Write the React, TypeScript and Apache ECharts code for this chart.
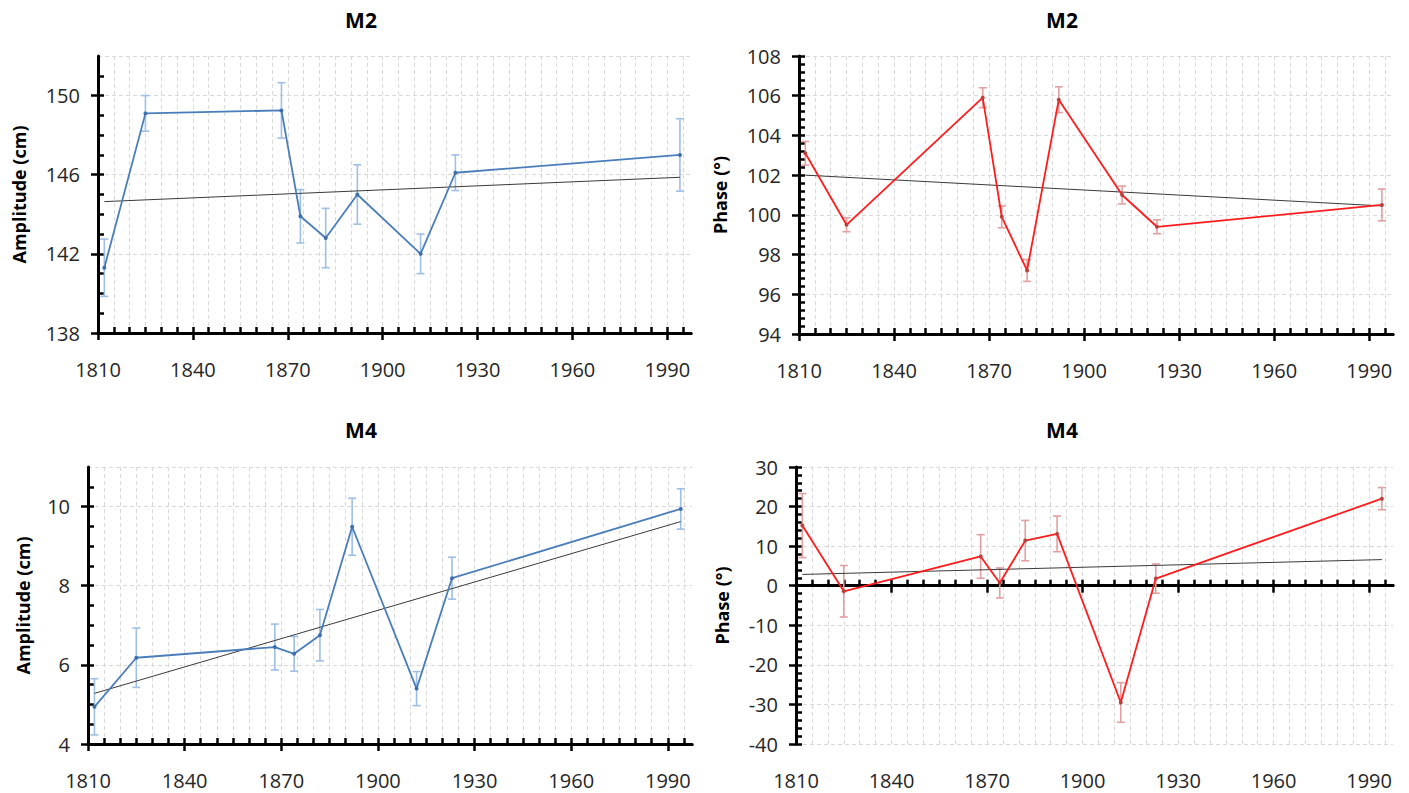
import React, { useEffect, useRef } from "react";
import * as echarts from "echarts";

// ---- data ----
const years = [1812, 1825, 1868, 1874, 1882, 1892, 1912, 1923, 1994];

const m2Amplitude = [141.3, 149.1, 149.25, 143.9, 142.8, 145.0, 142.0, 146.1, 147.0];
const m2AmplitudeErr = [1.45, 0.9, 1.4, 1.35, 1.5, 1.5, 1.0, 0.9, 1.83];
const m2Phase = [103.1, 99.5, 105.9, 99.9, 97.2, 105.8, 101.0, 99.4, 100.5];
const m2PhaseErr = [0.6, 0.35, 0.5, 0.55, 0.55, 0.65, 0.45, 0.35, 0.8];
const m4Amplitude = [4.94, 6.18, 6.45, 6.28, 6.75, 9.49, 5.4, 8.19, 9.94];
const m4AmplitudeErr = [0.71, 0.75, 0.58, 0.44, 0.65, 0.72, 0.43, 0.53, 0.51];
const m4Phase = [15.2, -1.4, 7.4, 0.7, 11.4, 13.1, -29.5, 1.8, 22.0];
const m4PhaseErr = [8.1, 6.5, 5.5, 3.8, 5.1, 4.5, 5.0, 3.7, 2.8];

// linear trend lines (end points)
const trendYears = [1812, 1994];
const m2AmplitudeTrend = [144.64, 145.87];
const m2PhaseTrend = [102.0, 100.45];
const m4AmplitudeTrend = [5.28, 9.62];
const m4PhaseTrend = [2.85, 6.6];

// tick labels
const xTickLabels = [1810, 1840, 1870, 1900, 1930, 1960, 1990];
const xGridValues = [
  1810, 1815, 1820, 1825, 1830, 1835, 1840, 1845, 1850, 1855, 1860, 1865, 1870, 1875, 1880, 1885, 1890,
  1895, 1900, 1905, 1910, 1915, 1920, 1925, 1930, 1935, 1940, 1945, 1950, 1955, 1960, 1965, 1970, 1975,
  1980, 1985, 1990, 1995,
];
const m2AmpTicks = [138, 142, 146, 150];
const m2PhaTicks = [94, 96, 98, 100, 102, 104, 106, 108];
const m4AmpTicks = [4, 6, 8, 10];
const m4PhaTicks = [-40, -30, -20, -10, 0, 10, 20, 30];

const X_MIN = 1810;
const X_MAX = 1997.5;
const FONT = '"Open Sans", "Noto Sans", sans-serif';

const BLUE = { line: "#4a7ebb", marker: "#3d6fae", err: "#9ebfe6" };
const RED = { line: "#ff1c1c", marker: "#b8403d", err: "#e2a0a0" };

type Panel = {
  title: string;
  titlePos: [number, number];
  yName: string;
  nameGap: number;
  values: number[];
  errors: number[];
  trend: number[];
  yMin: number;
  yMax: number;
  yInterval: number;
  yMinorSplit: number;
  yTicks: number[];
  yGrid: number[];
  rect: { left: number; top: number; width: number; height: number };
  colors: { line: string; marker: string; err: string };
  xOnZero: boolean;
};

const panels: Panel[] = [
  {
    title: "M2",
    titlePos: [361, 20],
    yName: "Amplitude (cm)",
    nameGap: 70,
    values: m2Amplitude,
    errors: m2AmplitudeErr,
    trend: m2AmplitudeTrend,
    yMin: 138,
    yMax: 152,
    yInterval: 4,
    yMinorSplit: 4,
    yTicks: m2AmpTicks,
    yGrid: [142, 146, 150, 152],
    rect: { left: 98, top: 56, width: 593, height: 277 },
    colors: BLUE,
    xOnZero: false,
  },
  {
    title: "M2",
    titlePos: [1062, 20],
    yName: "Phase (°)",
    nameGap: 70,
    values: m2Phase,
    errors: m2PhaseErr,
    trend: m2PhaseTrend,
    yMin: 94,
    yMax: 108,
    yInterval: 2,
    yMinorSplit: 5,
    yTicks: m2PhaTicks,
    yGrid: [96, 98, 100, 102, 104, 106, 108],
    rect: { left: 799, top: 56, width: 594, height: 278 },
    colors: RED,
    xOnZero: false,
  },
  {
    title: "M4",
    titlePos: [361, 430],
    yName: "Amplitude (cm)",
    nameGap: 56,
    values: m4Amplitude,
    errors: m4AmplitudeErr,
    trend: m4AmplitudeTrend,
    yMin: 4,
    yMax: 11,
    yInterval: 2,
    yMinorSplit: 4,
    yTicks: m4AmpTicks,
    yGrid: [6, 8, 10, 11],
    rect: { left: 88, top: 467, width: 604, height: 277 },
    colors: BLUE,
    xOnZero: false,
  },
  {
    title: "M4",
    titlePos: [1062, 430],
    yName: "Phase (°)",
    nameGap: 65,
    values: m4Phase,
    errors: m4PhaseErr,
    trend: m4PhaseTrend,
    yMin: -40,
    yMax: 30,
    yInterval: 10,
    yMinorSplit: 5,
    yTicks: m4PhaTicks,
    yGrid: [-40, -30, -20, -10, 10, 20, 30],
    rect: { left: 796, top: 467, width: 597, height: 277 },
    colors: RED,
    xOnZero: true,
  },
];

function buildOption() {
  const grid: any[] = [];
  const xAxis: any[] = [];
  const yAxis: any[] = [];
  const series: any[] = [];
  const graphic: any[] = [];

  const axisLineStyle = { color: "#000", width: 3 };
  const tickStyle = { color: "#000", width: 2.5 };
  const gridLineStyle = { color: "#d9d9d9", width: 1, type: [4, 3] };
  const labelStyle = { fontFamily: FONT, fontSize: 20, color: "#262626" };
  const plain = (v: number) => String(v);

  panels.forEach((p, gi) => {
    grid.push({ ...p.rect, containLabel: false, outerBoundsMode: "none" });
    const xb = 4 * gi;
    const yb = 3 * gi;
    const xBase = { type: "value", gridIndex: gi, min: X_MIN, max: X_MAX, interval: 30, position: "bottom" };
    const yBase = { type: "value", gridIndex: gi, min: p.yMin, max: p.yMax, interval: p.yInterval, position: "left" };
    const onZeroLine = p.xOnZero ? { onZero: true, onZeroAxisIndex: yb } : { onZero: false };

    // x axis: line + outward major ticks
    xAxis.push({
      ...xBase,
      axisLine: { show: true, ...onZeroLine, lineStyle: axisLineStyle },
      axisTick: { show: true, inside: false, length: 7, customValues: xTickLabels, lineStyle: tickStyle },
      minorTick: { show: false },
      axisLabel: { show: false },
      splitLine: { show: false },
    });
    // x axis: inward major + minor ticks
    xAxis.push({
      ...xBase,
      axisLine: { show: true, ...onZeroLine, lineStyle: axisLineStyle },
      axisTick: { show: true, inside: true, length: 6, customValues: xTickLabels, lineStyle: tickStyle },
      minorTick: { show: true, splitNumber: 6, length: 6, lineStyle: tickStyle },
      axisLabel: { show: false },
      splitLine: { show: false },
    });
    // x axis: labels at the bottom
    xAxis.push({
      ...xBase,
      axisLine: { show: false, onZero: false },
      axisTick: { show: false, customValues: xTickLabels },
      axisLabel: { show: true, customValues: xTickLabels, margin: 26, formatter: plain, ...labelStyle },
      splitLine: { show: false },
    });
    // x axis: vertical grid lines
    xAxis.push({
      ...xBase,
      interval: 5,
      axisLine: { show: false, onZero: false },
      axisTick: { show: false, customValues: xGridValues },
      axisLabel: { show: false },
      splitLine: { show: true, lineStyle: gridLineStyle },
    });

    // y axis: line + outward major ticks + labels + name
    yAxis.push({
      ...yBase,
      axisLine: { show: true, onZero: false, lineStyle: axisLineStyle },
      axisTick: { show: true, inside: false, length: 7, customValues: p.yTicks, lineStyle: tickStyle },
      minorTick: { show: false },
      axisLabel: { show: true, customValues: p.yTicks, margin: 18, formatter: plain, ...labelStyle },
      splitLine: { show: false },
      name: p.yName,
      nameLocation: "middle",
      nameGap: p.nameGap,
      nameTextStyle: { fontFamily: FONT, fontSize: 18, fontWeight: "bold", color: "#000" },
    });
    // y axis: inward ticks + minor ticks
    yAxis.push({
      ...yBase,
      axisLine: { show: false, onZero: false },
      axisTick: { show: true, inside: true, length: 6, customValues: p.yTicks, lineStyle: tickStyle },
      minorTick: { show: true, splitNumber: p.yMinorSplit, length: 6, lineStyle: tickStyle },
      axisLabel: { show: false },
      splitLine: { show: false },
    });
    // y axis: horizontal grid lines
    yAxis.push({
      ...yBase,
      axisLine: { show: false, onZero: false },
      axisTick: { show: false, customValues: p.yGrid },
      axisLabel: { show: false },
      splitLine: { show: true, lineStyle: gridLineStyle },
    });

    const c = p.colors;
    // error bars
    series.push({
      type: "custom",
      coordinateSystem: "cartesian2d",
      xAxisIndex: xb,
      yAxisIndex: yb,
      z: 2,
      silent: true,
      encode: { x: 0, y: [1, 2] },
      data: years.map((yr, i) => [yr, p.values[i] - p.errors[i], p.values[i] + p.errors[i]]),
      renderItem: (params: any, api: any) => {
        const x = api.value(0);
        const lo = api.coord([x, api.value(1)]);
        const hi = api.coord([x, api.value(2)]);
        const w = 4;
        const style = { stroke: c.err, lineWidth: 1.6, fill: "none" };
        return {
          type: "group",
          children: [
            { type: "line", shape: { x1: lo[0], y1: lo[1], x2: hi[0], y2: hi[1] }, style },
            { type: "line", shape: { x1: lo[0] - w, y1: lo[1], x2: lo[0] + w, y2: lo[1] }, style },
            { type: "line", shape: { x1: hi[0] - w, y1: hi[1], x2: hi[0] + w, y2: hi[1] }, style },
          ],
        };
      },
    });
    // trend line
    series.push({
      type: "line",
      xAxisIndex: xb,
      yAxisIndex: yb,
      z: 3,
      silent: true,
      symbol: "none",
      data: trendYears.map((yr, i) => [yr, p.trend[i]]),
      lineStyle: { color: "#3a3a3a", width: 1 },
    });
    // data line
    series.push({
      type: "line",
      xAxisIndex: xb,
      yAxisIndex: yb,
      z: 4,
      symbol: "circle",
      symbolSize: 4,
      showSymbol: true,
      data: years.map((yr, i) => [yr, p.values[i]]),
      lineStyle: { color: c.line, width: 1.8 },
      itemStyle: { color: c.marker },
    });

    graphic.push({
      type: "text",
      x: p.titlePos[0],
      y: p.titlePos[1],
      style: {
        text: p.title,
        align: "center",
        verticalAlign: "middle",
        font: `bold 21px ${FONT}`,
        fill: "#000",
      },
    });
  });

  return {
    animation: false,
    backgroundColor: "#ffffff",
    grid,
    xAxis,
    yAxis,
    series,
    graphic,
  };
}

export default function App() {
  const ref = useRef<HTMLDivElement | null>(null);
  useEffect(() => {
    if (!ref.current) return;
    const chart = echarts.init(ref.current, undefined, { renderer: "svg" });
    chart.setOption(buildOption() as any);
    return () => chart.dispose();
  }, []);
  return (
    <div
      ref={ref}
      style={{ position: "fixed", left: 0, top: 0, width: 1409, height: 793, background: "#fff" }}
    />
  );
}
